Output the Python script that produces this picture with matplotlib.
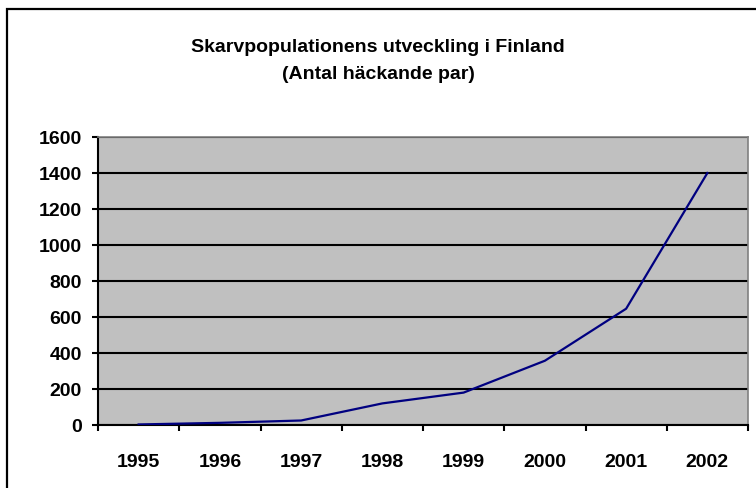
import matplotlib.pyplot as plt
from matplotlib.patches import Rectangle

years = ["1995", "1996", "1997", "1998", "1999", "2000", "2001", "2002"]
pairs = [3, 12, 25, 120, 180, 357, 646, 1400]
y_ticks = [0, 200, 400, 600, 800, 1000, 1200, 1400, 1600]

plt.rcParams["font.family"] = ["Liberation Sans", "DejaVu Sans"]

W, H = 756, 488
fig = plt.figure(figsize=(W / 100, H / 100), dpi=100)

# outer chart frame like an Excel chart area
fig.patches.append(Rectangle((7 / W, -0.01), 1.0, 1 - 9 / H + 0.01,
                             transform=fig.transFigure, fill=False,
                             edgecolor="black", linewidth=1.6))

left, right, top, bottom = 98, 748, 137, 425
ax = fig.add_axes([left / W, 1 - bottom / H, (right - left) / W, (bottom - top) / H])
ax.set_facecolor("#c0c0c0")

x = list(range(len(years)))
ax.plot(x, pairs, color="#000080", linewidth=1.6, zorder=3)

ax.set_xlim(-0.5, len(years) - 0.5)
ax.set_ylim(0, 1600)
ax.set_yticks(y_ticks)
ax.set_yticklabels([str(v) for v in y_ticks], fontsize=14, fontweight="bold")
ax.yaxis.grid(True, color="black", linewidth=1.5)
ax.set_axisbelow(True)

# category labels centred, tick marks between categories
ax.set_xticks([i - 0.5 for i in range(len(years) + 1)])
ax.set_xticklabels([])
ax.set_xticks(x, minor=True)
ax.set_xticklabels(years, minor=True, fontsize=14, fontweight="bold")
ax.tick_params(axis="x", which="minor", length=0, pad=21)
ax.tick_params(axis="x", which="major", length=4.5, width=1.5, direction="out")
ax.tick_params(axis="y", length=4.5, width=1.5, direction="out", pad=7)

for side in ("left", "bottom"):
    ax.spines[side].set_linewidth(1.5)
    ax.spines[side].set_color("black")
for side in ("top", "right"):
    ax.spines[side].set_linewidth(1.2)
    ax.spines[side].set_color("#808080")

fig.text(0.5, 1 - 61 / H, "Skarvpopulationens utveckling i Finland\n(Antal häckande par)",
         ha="center", va="center", fontsize=14, fontweight="bold", linespacing=1.75)

fig.savefig("out.png", dpi=100)
